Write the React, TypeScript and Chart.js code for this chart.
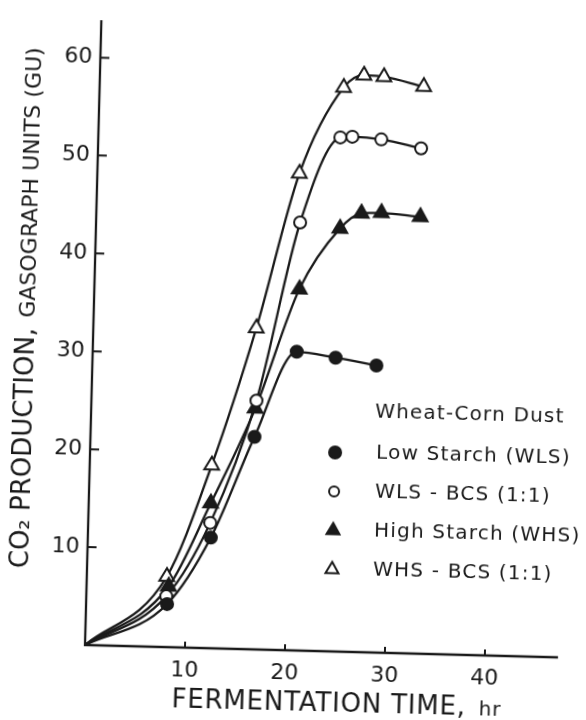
import { useEffect, useRef } from 'react';
import { Chart, registerables } from 'chart.js';

Chart.register(...registerables);

// ---- data (hours, gasograph units) ----
const X_TICKS = [10, 20, 30, 40];
const Y_TICKS = [10, 20, 30, 40, 50, 60];

const WLS_X = [0, 8.1, 12.3, 16.4, 20.4, 24.3, 28.4];
const WLS_Y = [0, 4.4, 11.3, 21.7, 30.5, 30.0, 29.3];

const WLSBCS_X = [0, 8.0, 12.2, 16.5, 20.4, 24.2, 25.4, 28.3, 32.3];
const WLSBCS_Y = [0, 5.2, 12.8, 25.4, 43.7, 52.5, 52.6, 52.4, 51.6];

const WHS_X = [0, 8.2, 12.2, 16.4, 20.5, 24.4, 26.5, 28.5, 32.4];
const WHS_Y = [0, 6.2, 14.8, 24.6, 36.9, 43.2, 44.8, 44.9, 44.6];

const WHSBCS_X = [0, 8.0, 12.2, 16.3, 20.2, 24.4, 26.4, 28.4, 32.4];
const WHSBCS_Y = [0, 7.2, 18.7, 32.8, 48.7, 57.6, 58.9, 58.8, 57.9];

const LEGEND_TITLE = 'Wheat-Corn Dust';
const LEGEND_LABELS = ['Low Starch (WLS)', 'WLS - BCS (1:1)', 'High Starch (WHS)', 'WHS - BCS (1:1)'];
const X_TITLE = 'FERMENTATION TIME,';
const X_UNIT = 'hr';
const Y_TITLE_MAIN = 'CO₂ PRODUCTION,';
const Y_TITLE_SUB = 'GASOGRAPH UNITS (GU)';

const INK = '#1a1a1a';
const FONT = '"DejaVu Sans", sans-serif';

type Marker = { style: 'circle' | 'triangle'; filled: boolean };
const MARKERS: Marker[] = [
  { style: 'circle', filled: true },
  { style: 'circle', filled: false },
  { style: 'triangle', filled: true },
  { style: 'triangle', filled: false },
];

function pts(xs: number[], ys: number[]) {
  return xs.map((x, i) => ({ x, y: ys[i] }));
}

function drawMarker(ctx: CanvasRenderingContext2D, m: Marker, x: number, y: number, r: number) {
  ctx.beginPath();
  if (m.style === 'circle') {
    ctx.arc(x, y, r, 0, Math.PI * 2);
  } else {
    const rr = r * 1.25;
    ctx.moveTo(x, y - rr);
    ctx.lineTo(x + rr * Math.sin((2 * Math.PI) / 3), y - rr * Math.cos((2 * Math.PI) / 3));
    ctx.lineTo(x + rr * Math.sin((4 * Math.PI) / 3), y - rr * Math.cos((4 * Math.PI) / 3));
    ctx.closePath();
  }
  ctx.fillStyle = m.filled ? INK : '#fff';
  ctx.fill();
  ctx.lineWidth = 2;
  ctx.strokeStyle = INK;
  ctx.stroke();
}

const annotPlugin = {
  id: 'annot',
  afterDraw(chart: any) {
    const ctx: CanvasRenderingContext2D = chart.ctx;
    const { left, right, top, bottom } = chart.chartArea;
    const xs = chart.scales.x;
    const ys = chart.scales.y;
    ctx.save();
    // axes
    ctx.strokeStyle = INK;
    ctx.lineWidth = 2.3;
    ctx.lineCap = 'square';
    ctx.beginPath();
    ctx.moveTo(left, top);
    ctx.lineTo(left, bottom);
    ctx.lineTo(right, bottom);
    ctx.stroke();
    // inward tick marks
    ctx.lineWidth = 2;
    ctx.lineCap = 'butt';
    ctx.beginPath();
    for (const t of X_TICKS) {
      const px = xs.getPixelForValue(t);
      ctx.moveTo(px, bottom);
      ctx.lineTo(px, bottom - 6);
    }
    for (const t of Y_TICKS) {
      const py = ys.getPixelForValue(t);
      ctx.moveTo(left, py);
      ctx.lineTo(left + 9, py);
    }
    ctx.stroke();

    ctx.fillStyle = INK;
    // x title
    (ctx as any).letterSpacing = '0.8px';
    ctx.textAlign = 'left';
    ctx.textBaseline = 'alphabetic';
    ctx.font = `26px ${FONT}`;
    const xBase = 705;
    ctx.fillText(X_TITLE, 173, xBase);
    const w1 = ctx.measureText(X_TITLE + ' ').width;
    ctx.font = `20px ${FONT}`;
    ctx.fillText(X_UNIT, 173 + w1 + 4, xBase);

    // y title (rotated)
    (ctx as any).letterSpacing = '0px';
    ctx.save();
    ctx.translate(26, 570);
    ctx.rotate(-Math.PI / 2);
    ctx.font = `26px ${FONT}`;
    ctx.fillText(Y_TITLE_MAIN, 0, 0);
    const w2 = ctx.measureText(Y_TITLE_MAIN + ' ').width;
    ctx.font = `22px ${FONT}`;
    ctx.fillText(Y_TITLE_SUB, w2 + 2, 0);
    ctx.restore();

    // legend
    (ctx as any).letterSpacing = '1.2px';
    ctx.font = `20px ${FONT}`;
    ctx.textBaseline = 'middle';
    ctx.fillStyle = INK;
    ctx.fillText(LEGEND_TITLE, 369, 405);
    const rowY = [446, 485, 524, 563];
    LEGEND_LABELS.forEach((lab, i) => {
      ctx.fillStyle = INK;
      ctx.fillText(lab, 371, rowY[i]);
      drawMarker(ctx, MARKERS[i], 330, rowY[i], MARKERS[i].style === 'circle' ? (MARKERS[i].filled ? 6 : 5) : 6);
    });
    ctx.restore();
  },
};

function ds(label: string, xs: number[], ys: number[], m: Marker) {
  return {
    label,
    data: pts(xs, ys),
    showLine: true,
    borderColor: INK,
    borderWidth: 2.3,
    tension: 0.4,
    cubicInterpolationMode: 'monotone' as const,
    pointStyle: m.style,
    pointRadius: (c: any) => (c.dataIndex === 0 ? 0 : m.style === 'circle' ? 6 : 8.5),
    pointBackgroundColor: m.filled ? INK : '#fff',
    pointBorderColor: INK,
    pointBorderWidth: 2,
    fill: false,
  };
}

export default function App() {
  const ref = useRef<HTMLCanvasElement>(null);
  useEffect(() => {
    const chart = new Chart(ref.current as HTMLCanvasElement, {
      type: 'line',
      data: {
        datasets: [
          ds(LEGEND_LABELS[0], WLS_X, WLS_Y, MARKERS[0]),
          ds(LEGEND_LABELS[1], WLSBCS_X, WLSBCS_Y, MARKERS[1]),
          ds(LEGEND_LABELS[2], WHS_X, WHS_Y, MARKERS[2]),
          ds(LEGEND_LABELS[3], WHSBCS_X, WHSBCS_Y, MARKERS[3]),
        ] as any,
      },
      options: {
        responsive: false,
        animation: false,
        devicePixelRatio: 1,
        layout: { padding: { left: 0, top: 8, right: 29, bottom: 0 } },
        plugins: { legend: { display: false }, tooltip: { enabled: false } },
        scales: {
          x: {
            type: 'linear',
            min: 0,
            max: 47.2,
            grid: { display: false, drawTicks: false },
            border: { display: false },
            afterBuildTicks: (s: any) => {
              s.ticks = X_TICKS.map((v) => ({ value: v }));
            },
            afterFit: (s: any) => {
              s.height = 75;
            },
            ticks: {
              font: { family: FONT, size: 22 },
              color: INK,
              padding: 10,
              maxRotation: 0,
              autoSkip: false,
            },
          },
          y: {
            type: 'linear',
            min: 0,
            max: 63.7,
            grid: { display: false, drawTicks: false },
            border: { display: false },
            afterBuildTicks: (s: any) => {
              s.ticks = Y_TICKS.map((v) => ({ value: v }));
            },
            afterFit: (s: any) => {
              s.width = 85;
            },
            ticks: {
              font: { family: FONT, size: 22 },
              color: INK,
              padding: 8,
              autoSkip: false,
            },
          },
        },
      } as any,
      plugins: [annotPlugin],
    });
    return () => chart.destroy();
  }, []);

  return (
    <div style={{ position: 'fixed', inset: 0, overflow: 'hidden', background: '#fff' }}>
      <div
        style={{
          position: 'absolute',
          left: 0,
          top: 0,
          width: 586,
          height: 720,
          transform: 'rotate(1.5deg)',
          transformOrigin: '85px 645px',
        }}
      >
        <canvas ref={ref} width={586} height={720} style={{ display: 'block', width: 586, height: 720 }} />
      </div>
    </div>
  );
}
